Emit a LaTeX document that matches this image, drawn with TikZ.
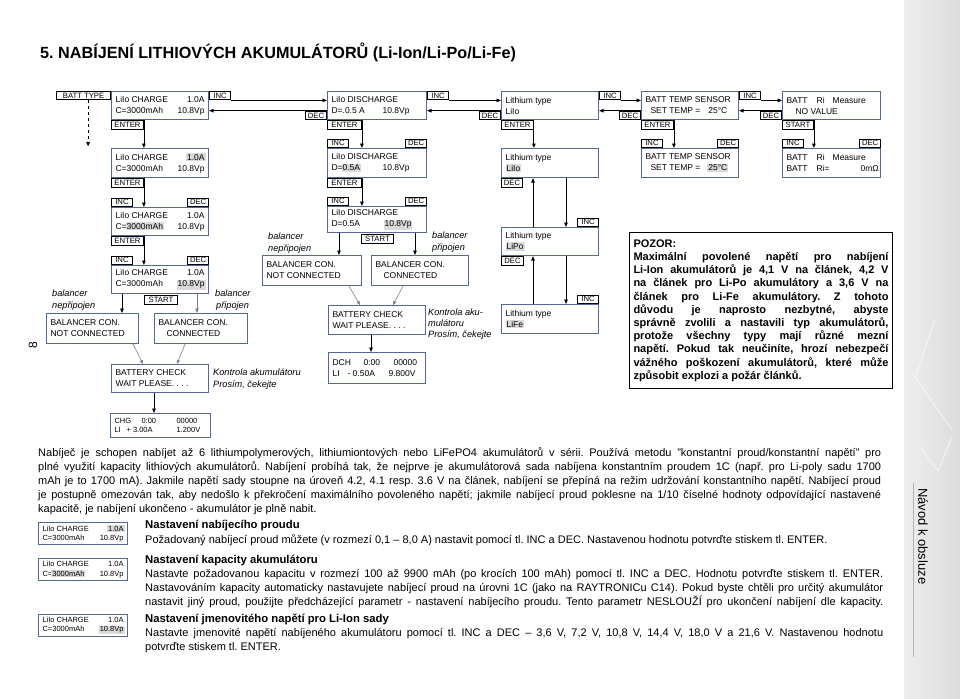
\documentclass[tikz,border=0pt]{standalone}
\usepackage{fontspec}
\setmainfont{Liberation Sans}
\usetikzlibrary{arrows.meta,calc}
\definecolor{lcdblue}{RGB}{84,104,150}
\definecolor{hlgray}{RGB}{218,218,218}
\definecolor{sbL}{RGB}{238,238,238}
\definecolor{sbR}{RGB}{220,220,220}
\frenchspacing
\newcommand\boxfont{\fontsize{8.5}{11}\selectfont}
\newcommand\smallboxfont{\fontsize{7.5}{9.5}\selectfont}
\newcommand\tabfont{\fontsize{7.7}{7.7}\selectfont}
\newcommand\lblfont{\fontsize{9.2}{11}\selectfont\itshape}
\newcommand\bodyfont{\fontsize{11}{14}\selectfont}
\newcommand\headfont{\fontsize{11.3}{14}\selectfont\bfseries}
\newcommand\pozfont{\fontsize{11}{13.2}\selectfont\bfseries}
\newcommand\hlt[1]{\kern-1pt{\setlength{\fboxsep}{1pt}\colorbox{hlgray}{#1}}\kern-1pt}
\newcommand\jl[2]{\makebox[#1pt][s]{#2}}
\newcommand\lcdbox[6][]{\node[lcd,minimum width=#4pt,minimum height=#5pt,#1] (#2) at (#3) {\parbox{\dimexpr#4pt-8pt\relax}{#6}};}
\tikzset{
  lcd/.style={draw=lcdblue, line width=1.1pt, fill=white, inner sep=0pt, font=\boxfont, anchor=north west},
  tab/.style={draw=black, line width=0.9pt, fill=white, inner sep=0pt, minimum height=8.5pt, minimum width=21pt, font=\tabfont},
  arr/.style={line width=0.8pt, -{Triangle[length=4.5pt,width=3.6pt]}},
  garr/.style={line width=0.6pt, draw=gray, -{Triangle[length=4pt,width=3.2pt]}},
  lbl/.style={font=\lblfont, anchor=base west, inner sep=0pt},
  txt/.style={font=\bodyfont, anchor=base west, inner sep=0pt},
}
\begin{document}
\begin{tikzpicture}[x=1pt,y=-1pt]
\useasboundingbox (0,0) rectangle (960,698);
\fill[white] (0,0) rectangle (960,698);
% side strip
\shade[left color=sbL, right color=sbR] (904,0) rectangle (960,698);
\draw[white, line width=1pt, opacity=0.6] (935,320) -- (915,377) -- (952,430);
\draw[white, line width=1pt, opacity=0.6] (920,447) -- (938,471) -- (952,437);
\draw[gray!60, line width=0.6pt] (913,483) -- (913,657);
\node[rotate=-90, anchor=west, inner sep=0pt, font=\fontsize{13}{13}\selectfont] (side) at (923,488) {Návod k obsluze};
\node[rotate=90, inner sep=0pt, font=\fontsize{12}{12}\selectfont] (pg) at (33,345) {8};

% title
\node[anchor=base west, inner sep=0pt, font=\fontsize{16.2}{18}\selectfont\bfseries] (title) at (40,58.5) {5. NABÍJENÍ LITHIOVÝCH AKUMULÁTORŮ (Li-Ion/Li-Po/Li-Fe)};

% ---------- row 1
\lcdbox{b1}{111,91}{97}{28}{LiIo CHARGE\hfill 1.0A\\C=3000mAh\hfill 10.8Vp}
\lcdbox{b2}{327,91}{99}{28}{LiIo DISCHARGE\\D=.0.5 A\hfill\makebox[40pt][l]{10.8Vp}}
\lcdbox{b3}{501,91}{97}{28}{Lithium type\\LiIo}
\lcdbox{b4}{641,91}{97}{28}{BATT TEMP SENSOR\\\hspace*{5pt}SET TEMP =\hspace{8pt}25°C}
\lcdbox{b5}{782,91}{98}{28}{BATT\hspace{9pt}Ri\hspace{8pt}Measure\\\hspace*{9pt}NO VALUE}

\node[tab, anchor=north east, minimum width=54pt] (tbt) at (b1.north west) {BATT TYPE};
\node[tab, anchor=north west] (i1) at (b1.north east) {INC};
\node[tab, anchor=north west, minimum width=32pt] (e1) at (b1.south west) {ENTER};
\node[tab, anchor=south east] (d2) at (b2.south west) {DEC};
\node[tab, anchor=north west] (i2) at (b2.north east) {INC};
\node[tab, anchor=north west, minimum width=34pt] (e2) at (b2.south west) {ENTER};
\node[tab, anchor=south east] (d3) at (b3.south west) {DEC};
\node[tab, anchor=north west] (i3) at (b3.north east) {INC};
\node[tab, anchor=north west, minimum width=32pt] (e3) at (b3.south west) {ENTER};
\node[tab, anchor=south east] (d4) at (b4.south west) {DEC};
\node[tab, anchor=north west] (i4) at (b4.north east) {INC};
\node[tab, anchor=north west, minimum width=32pt] (e4) at (b4.south west) {ENTER};
\node[tab, anchor=south east] (d5) at (b5.south west) {DEC};
\node[tab, anchor=north west, minimum width=31pt] (s5) at (b5.south west) {START};

\coordinate (dtop) at ($(tbt.south west)+(32,0)$);
\coordinate (dend) at ($(tbt.south west)+(32,46)$);
\draw[arr, dashed] (dtop) -- (dend);

\draw[arr] (i1.south east) -- (i1.south east -| b2.west);
\draw[arr] (d2.north east) -- (d2.north east -| b1.east);
\draw[arr] (i2.south east) -- (i2.south east -| b3.west);
\draw[arr] (d3.north east) -- (d3.north east -| b2.east);
\draw[arr] (i3.south east) -- (i3.south east -| b4.west);
\draw[arr] (d4.north east) -- (d4.north east -| b3.east);
\draw[arr] (i4.south east) -- (i4.south east -| b5.west);
\draw[arr] (d5.north east) -- (d5.north east -| b4.east);

% ---------- row 2
\lcdbox{b1b}{111,148}{97}{29}{LiIo CHARGE\hfill\hlt{1.0A}\\C=3000mAh\hfill 10.8Vp}
\lcdbox{b2b}{327,148}{99}{29}{LiIo DISCHARGE\\D=\hlt{0.5A}\hfill\makebox[40pt][l]{10.8Vp}}
\lcdbox{b3b}{501,148}{97}{29}{Lithium type\\\hlt{LiIo}}
\lcdbox{b4b}{641,148}{97}{29}{BATT TEMP SENSOR\\\hspace*{5pt}SET TEMP =\hspace{8pt}\hlt{25°C}}
\lcdbox{b5b}{782,148}{98}{29}{BATT\hspace{9pt}Ri\hspace{8pt}Measure\\BATT\hspace{9pt}Ri=\hfill\makebox[16pt][l]{0mΩ}}

\node[tab, anchor=north west, minimum width=32pt] (e1b) at (b1b.south west) {ENTER};
\node[tab, anchor=south west] (i2b) at (b2b.north west) {INC};
\node[tab, anchor=south east] (d2b) at (b2b.north east) {DEC};
\node[tab, anchor=north west, minimum width=34pt] (e2b) at (b2b.south west) {ENTER};
\node[tab, anchor=north west] (d3b) at (b3b.south west) {DEC};
\node[tab, anchor=south west] (i4b) at (b4b.north west) {INC};
\node[tab, anchor=south east] (d4b) at (b4b.north east) {DEC};
\node[tab, anchor=south west] (i5b) at (b5b.north west) {INC};
\node[tab, anchor=south east] (d5b) at (b5b.north east) {DEC};

\draw[arr] (e1.north east) -- (e1.north east |- b1b.north);
\draw[arr] (e2.north east) -- (e2.north east |- b2b.north);
\draw[arr, line width=1pt] (e3.north east) -- (e3.north east |- b3b.north);
\draw[arr] (e4.north east) -- (e4.north east |- b4b.north);
\draw[arr] (s5.north east) -- (s5.north east |- b5b.north);

% ---------- column 1
\lcdbox{b1c}{111,207}{97}{28}{LiIo CHARGE\hfill 1.0A\\C=\hlt{3000mAh}\hfill 10.8Vp}
\node[tab, anchor=south west] (i1c) at (b1c.north west) {INC};
\node[tab, anchor=south east] (d1c) at (b1c.north east) {DEC};
\node[tab, anchor=north west, minimum width=32pt] (e1c) at (b1c.south west) {ENTER};
\lcdbox{b1d}{111,265}{97}{28}{LiIo CHARGE\hfill 1.0A\\C=3000mAh\hfill\hlt{10.8Vp}}
\node[tab, anchor=south west] (i1d) at (b1d.north west) {INC};
\node[tab, anchor=south east] (d1d) at (b1d.north east) {DEC};
\node[tab, anchor=north west, minimum width=33pt] (st1) at ($(b1d.south west)+(33,1)$) {START};
\lcdbox{ncL}{46,313}{92}{30}{BALANCER CON.\\NOT CONNECTED}
\lcdbox{cL}{154,313}{93}{30}{BALANCER CON.\\\hspace*{8pt}CONNECTED}
\lcdbox{bcL}{111,364}{97}{28}{BATTERY CHECK\\WAIT PLEASE. . . .}
\lcdbox[font=\smallboxfont]{chg}{110,413}{100}{24}{\makebox[27pt][l]{CHG}\makebox[35pt][l]{0:00}00000\\\makebox[12pt][l]{LI}\makebox[50pt][l]{+ 3.00A}1.200V}

\node[lbl] (l1a) at (52,296) {balancer};
\node[lbl] (l1b) at (52,308) {nepřipojen};
\node[lbl] (l2a) at (215,296) {balancer};
\node[lbl] (l2b) at (216,308) {připojen};
\node[lbl] (l3a) at (213,375) {Kontrola akumulátoru};
\node[lbl] (l3b) at (213,387) {Prosím, čekejte};

\draw[arr] (e1b.north east) -- (e1b.north east |- b1c.north);
\draw[arr] (e1c.north east) -- (e1c.north east |- b1d.north);
\draw[arr] ($(b1d.south west)+(11,0)$) -- ($(ncL.north west)+(76,0)$);
\draw[arr, draw=gray] ($(b1d.south west)+(86,0)$) -- ($(cL.north west)+(43,0)$);
\draw[garr] ($(ncL.south west)+(87,0)$) -- ($(bcL.north west)+(32,0)$);
\draw[garr] ($(cL.south west)+(31,0)$) -- ($(bcL.north west)+(66,0)$);
\draw[arr, line width=0.6pt] ($(bcL.south west)+(43,0)$) -- ($(chg.north west)+(44,0)$);

% ---------- column 2
\lcdbox{b2c}{327,206}{99}{26}{LiIo DISCHARGE\\D=0.5A\hfill\makebox[38pt][l]{\hlt{10.8Vp}}}
\node[tab, anchor=south west] (i2c) at (b2c.north west) {INC};
\node[tab, anchor=south east] (d2c) at (b2c.north east) {DEC};
\node[tab, anchor=north west, minimum width=32pt] (st2) at ($(b2c.south west)+(34,1)$) {START};
\lcdbox{ncM}{262,255}{99}{30}{BALANCER CON.\\NOT CONNECTED}
\lcdbox{cM}{371,255}{97}{30}{BALANCER CON.\\\hspace*{8pt}CONNECTED}
\lcdbox{bcM}{328,305}{97}{29}{BATTERY CHECK\\WAIT PLEASE. . . .}
\lcdbox{dch}{328,352}{97}{31}{\makebox[31pt][l]{DCH}\makebox[30pt][l]{0:00}00000\\\makebox[15pt][l]{LI}\makebox[41pt][l]{- 0.50A}9.800V}

\node[lbl] (l4a) at (268,239) {balancer};
\node[lbl] (l4b) at (268,251) {nepřipojen};
\node[lbl] (l5a) at (432,238) {balancer};
\node[lbl] (l5b) at (432,250) {připojen};
\node[lbl] (l6a) at (428,315) {Kontrola aku-};
\node[lbl] (l6b) at (428,326) {mulátoru};
\node[lbl] (l6c) at (428,337) {Prosím, čekejte};

\draw[arr] (e2b.north east) -- (e2b.north east |- b2c.north);
\draw[arr] ($(b2c.south west)+(12,0)$) -- ($(ncM.north west)+(77,0)$);
\draw[arr] ($(b2c.south west)+(88,0)$) -- ($(cM.north west)+(44,0)$);
\draw[garr] ($(ncM.south west)+(87,0)$) -- ($(bcM.north west)+(32,0)$);
\draw[garr] ($(cM.south west)+(32,0)$) -- ($(bcM.north west)+(65,0)$);
\draw[arr, line width=0.6pt] ($(bcM.south west)+(43,0)$) -- ($(dch.north west)+(43,0)$);

% ---------- column 3
\lcdbox{lipo}{501,227}{97}{28}{Lithium type\\\hlt{LiPo}}
\lcdbox{life}{501,304}{97}{29}{Lithium type\\\hlt{LiFe}}
\node[tab, anchor=south east] (ilp) at (lipo.north east) {INC};
\node[tab, anchor=north west, minimum width=22pt] (dlp) at (lipo.south west) {DEC};
\node[tab, anchor=south east] (ilf) at (life.north east) {INC};

\draw[arr] ($(b3b.south west)+(65,0)$) -- ($(lipo.north west)+(65,0)$);
\draw[arr] ($(lipo.north west)+(32,0)$) -- ($(b3b.south west)+(32,0)$);
\draw[arr] ($(lipo.south west)+(65,0)$) -- ($(life.north west)+(65,0)$);
\draw[arr] ($(life.north west)+(32,0)$) -- ($(lipo.south west)+(32,0)$);

% ---------- POZOR
\node[draw=black, line width=1pt, anchor=north west, inner sep=0pt, minimum width=263pt, minimum height=156pt, font=\pozfont] (poz) at (629,232) {\parbox{255pt}{POZOR:\\
\jl{255}{Maximální povolené napětí pro nabíjení}\\
\jl{255}{Li-Ion akumulátorů je 4,1 V na článek, 4,2 V}\\
\jl{255}{na článek pro Li-Po akumulátory a 3,6 V na}\\
\jl{255}{článek pro Li-Fe akumulátory. Z tohoto}\\
\jl{255}{důvodu je naprosto nezbytné, abyste}\\
\jl{255}{správně zvolili a nastavili typ akumulátorů,}\\
\jl{255}{protože všechny typy mají různé mezní}\\
\jl{255}{napětí. Pokud tak neučiníte, hrozí nebezpečí}\\
\jl{255}{vážného poškození akumulátorů, které může}\\
způsobit explozi a požár článků.}};

% ---------- body text
\node[txt] (p1) at (38,456) {\jl{843}{Nabíječ je schopen nabíjet až 6 lithiumpolymerových, lithiumiontových nebo LiFePO4 akumulátorů v sérii. Používá metodu "konstantní proud/konstantní napětí" pro}};
\node[txt] (p2) at (38,470) {\jl{843}{plné využití kapacity lithiových akumulátorů. Nabíjení probíhá tak, že nejprve je akumulátorová sada nabíjena konstantním proudem 1C (např. pro Li-poly sadu 1700}};
\node[txt] (p3) at (38,484) {\jl{843}{mAh je to 1700 mA). Jakmile napětí sady stoupne na úroveň 4.2, 4.1 resp. 3.6 V na článek, nabíjení se přepíná na režim udržování konstantního napětí. Nabíjecí proud}};
\node[txt] (p4) at (38,498) {\jl{843}{je postupně omezován tak, aby nedošlo k překročení maximálního povoleného napětí; jakmile nabíjecí proud poklesne na 1/10 číselné hodnoty odpovídající nastavené}};
\node[txt] (p5) at (38,512) {kapacitě, je nabíjení ukončeno - akumulátor je plně nabit.};

\lcdbox[font=\smallboxfont]{t1}{38,522}{89}{22}{LiIo CHARGE\hfill\hlt{1.0A}\\C=3000mAh\hfill 10.8Vp}
\lcdbox[font=\smallboxfont]{t2}{38,558}{89}{22}{LiIo CHARGE\hfill 1.0A\\C=\hlt{3000mAh}\hfill 10.8Vp}
\lcdbox[font=\smallboxfont]{t3}{38,614}{89}{22}{LiIo CHARGE\hfill 1.0A\\C=3000mAh\hfill\hlt{10.8Vp}}

\node[txt, font=\headfont] (h1) at (145,528) {Nastavení nabíjecího proudu};
\node[txt] (s1) at (145,543) {Požadovaný nabíjecí proud můžete (v rozmezí 0,1 – 8,0 A) nastavit pomocí tl. INC a DEC. Nastavenou hodnotu potvrďte stiskem tl. ENTER.};
\node[txt, font=\headfont] (h2) at (145,563) {Nastavení kapacity akumulátoru};
\node[txt] (s2) at (145,577) {\jl{738}{Nastavte požadovanou kapacitu v rozmezí 100 až 9900 mAh (po krocích 100 mAh) pomocí tl. INC a DEC. Hodnotu potvrďte stiskem tl. ENTER.}};
\node[txt] (s3) at (145,591) {\jl{738}{Nastavováním kapacity automaticky nastavujete nabíjecí proud na úrovni 1C (jako na RAYTRONICu C14). Pokud byste chtěli pro určitý akumulátor}};
\node[txt] (s4) at (145,605) {\jl{738}{nastavit jiný proud, použijte předcházející parametr - nastavení nabíjecího proudu. Tento parametr NESLOUŽÍ pro ukončení nabíjení dle kapacity.}};
\node[txt, font=\headfont] (h3) at (145,622) {Nastavení jmenovitého napětí pro Li-Ion sady};
\node[txt] (s5) at (145,636) {\jl{738}{Nastavte jmenovité napětí nabíjeného akumulátoru pomocí tl. INC a DEC – 3,6 V, 7,2 V, 10,8 V, 14,4 V, 18,0 V a 21,6 V. Nastavenou hodnotu}};
\node[txt] (s6) at (145,650) {potvrďte stiskem tl. ENTER.};
\end{tikzpicture}
\end{document}
